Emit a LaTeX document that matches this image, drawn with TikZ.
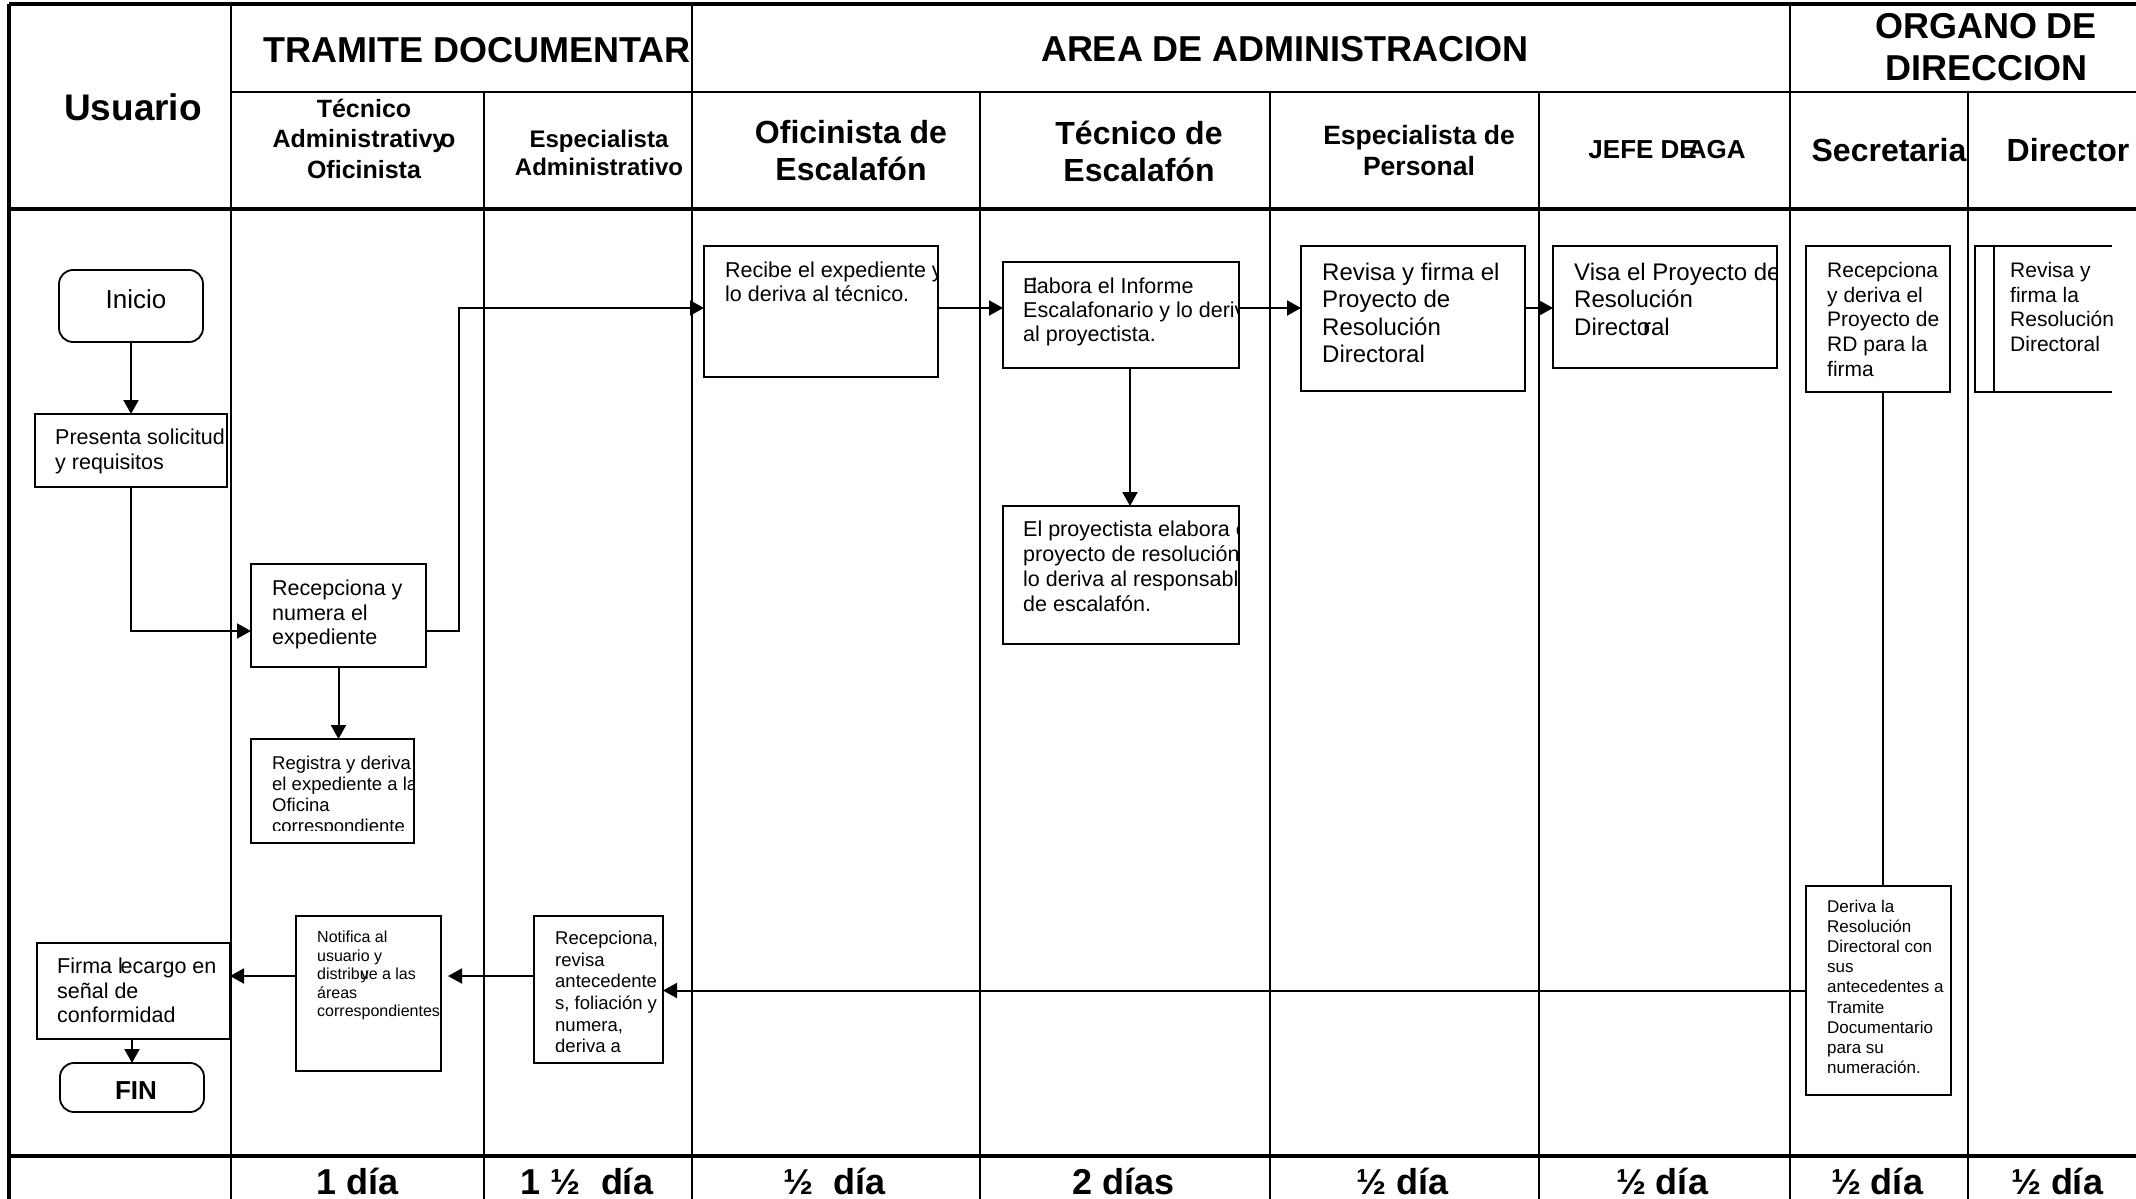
\documentclass[tikz,border=0pt]{standalone}
\usepackage{fontspec}
\setmainfont{Liberation Sans}
\usetikzlibrary{arrows.meta}

\begin{document}
\begin{tikzpicture}[x=1pt,y=-1pt]
\tikzset{caja/.style={draw, line width=1.8pt, inner sep=0pt, outer sep=0pt},
  inicial/.style={caja, rounded corners=14pt},
  texto/.style={anchor=north west, inner sep=0pt, align=left},
  titulo/.style={inner sep=0pt, align=center, font=\bfseries\fontsize{32}{37}\selectfont},
  dias/.style={anchor=base, inner sep=0pt, font=\bfseries\fontsize{36}{40}\selectfont},
  linea/.style={line width=2.5pt},
  gruesa/.style={line width=4pt},
  flecha/.style={line width=2pt, -{Triangle[length=14pt,width=15pt]}}}
\useasboundingbox (0,0) rectangle (2136,1199);
\clip (0,0) rectangle (2136,1199);
\draw[gruesa] (9,4) -- (2140,4);
\draw[gruesa] (9,4) -- (9,1205);
\draw[linea] (231,92) -- (2140,92);
\draw[gruesa] (9,209) -- (2140,209);
\draw[gruesa] (9,1156) -- (2140,1156);
\draw[linea] (231,4) -- (231,1205);
\draw[linea] (484,92) -- (484,1205);
\draw[linea] (692,4) -- (692,1205);
\draw[linea] (980,92) -- (980,1205);
\draw[linea] (1270,92) -- (1270,1205);
\draw[linea] (1539,92) -- (1539,1205);
\draw[linea] (1790,4) -- (1790,1205);
\draw[linea] (1968,92) -- (1968,1205);
\node[titulo, font=\bfseries\fontsize{37}{42}\selectfont] (husuario) at (133,107) {Usuario};
\begin{scope}
\clip (231,4) rectangle (692,92);
\node[titulo, anchor=west, font=\bfseries\fontsize{36}{40}\selectfont] (htramite) at (263,50) {TRAMITE DOCUMENTARI};
\end{scope}
\node[titulo, font=\bfseries\fontsize{36}{42}\selectfont] (harea) at (1285,49) {AREA DE ADMINISTRACION};
\node[titulo, font=\bfseries\fontsize{36}{42}\selectfont] (horgano) at (1986,47) {ORGANO DE\\DIRECCION};
\node[titulo, font=\bfseries\fontsize{25}{30.5}\selectfont] (htec) at (364,138.5) {Técnico\\Administrativy\kern-.25em o\\Oficinista};
\node[titulo, font=\bfseries\fontsize{24}{28}\selectfont] (hesp) at (599,153) {Especialista\\Administrativo};
\node[titulo] (hofi) at (851,151) {Oficinista de\\Escalafón};
\node[titulo] (htece) at (1139,151) {Técnico de\\Escalafón};
\node[titulo, font=\bfseries\fontsize{26.5}{31}\selectfont] (hespp) at (1419,151) {Especialista de\\Personal};
\node[titulo, font=\bfseries\fontsize{26}{30}\selectfont] (hjefe) at (1667,150) {JEFE DE\kern-.35em AGA};
\node[titulo] (hsec) at (1889,150) {Secretaria};
\node[titulo] (hdir) at (2068,150) {Director};
\node[inicial, minimum width=144pt, minimum height=72pt] (inicio) at (131,306) {};
\node[inner sep=0pt, font=\fontsize{26}{30}\selectfont] (tinicio) at (136,299) {Inicio};
\node[caja, minimum width=192pt, minimum height=73pt] (presenta) at (131,450.5) {};
\node[caja, minimum width=175pt, minimum height=103pt] (recep) at (338.5,615.5) {};
\node[caja, minimum width=163pt, minimum height=104pt] (registra) at (332.5,791) {};
\node[caja, minimum width=234pt, minimum height=131pt] (recibe) at (821,311.5) {};
\node[caja, minimum width=236pt, minimum height=106pt] (elabora) at (1121,315) {};
\node[caja, minimum width=236pt, minimum height=138pt] (proyecto) at (1121,575) {};
\node[caja, minimum width=224pt, minimum height=145pt] (revisa) at (1413,318.5) {};
\node[caja, minimum width=224pt, minimum height=122pt] (visa) at (1665,307) {};
\node[caja, minimum width=144pt, minimum height=146pt] (recsec) at (1878,319) {};
\node[caja, draw=none, minimum width=137pt, minimum height=146pt] (firmadir) at (2043.5,319) {};
\node[caja, minimum width=145pt, minimum height=209pt] (deriva) at (1878.5,990.5) {};
\node[caja, minimum width=129pt, minimum height=147pt] (recesp) at (598.5,989.5) {};
\node[caja, minimum width=145pt, minimum height=155pt] (notifica) at (368.5,993.5) {};
\node[caja, minimum width=193pt, minimum height=96pt] (firma) at (133.5,991) {};
\node[inicial, minimum width=144pt, minimum height=49pt] (fin) at (132,1087.5) {};
\node[inner sep=0pt, font=\bfseries\fontsize{26}{30}\selectfont] (tfin) at (136,1091) {FIN};
\draw[line width=1.8pt] (firmadir.north east) -- (firmadir.north west) -- (firmadir.south west) -- (firmadir.south east);
\draw[line width=1.8pt] ([xshift=19pt]firmadir.north west) -- ([xshift=19pt]firmadir.south west);
\node[texto, font=\fontsize{21.5}{24.5}\selectfont] (tpresenta) at (55,429) {Presenta solicitud\\y requisitos};
\node[texto, font=\fontsize{21.5}{24.5}\selectfont] (trecep) at (272,580) {Recepciona y\\numera el\\expediente};
\begin{scope}
\clip (registra.north west) rectangle ([yshift=13pt]registra.south east);
\node[texto, font=\fontsize{18.5}{21}\selectfont] (tregistra) at (272,756) {Registra y deriva\\el expediente a la\\Oficina\\correspondiente};
\end{scope}
\begin{scope}
\clip (recibe.south west) rectangle (recibe.north east);
\node[texto, font=\fontsize{21.5}{24}\selectfont] (trecibe) at (725,262) {Recibe el expediente y\\lo deriva al técnico.};
\end{scope}
\begin{scope}
\clip (elabora.south west) rectangle (elabora.north east);
\node[texto, font=\fontsize{21.5}{24}\selectfont] (telabora) at (1023,278) {E\kern-.25em labora el Informe\\Escalafonario y lo deriv\\al proyectista.};
\end{scope}
\begin{scope}
\clip (proyecto.south west) rectangle (proyecto.north east);
\node[texto, font=\fontsize{21.5}{25}\selectfont] (tproyecto) at (1023,521) {El proyectista elabora e\\proyecto de resolución\\lo deriva al responsabl\\de escalafón.};
\end{scope}
\node[texto, font=\fontsize{24}{27.3}\selectfont] (trevisa) at (1322,263) {Revisa y firma el\\Proyecto de\\Resolución\\Directoral};
\begin{scope}
\clip (visa.south west) rectangle (visa.north east);
\node[texto, font=\fontsize{24}{27.3}\selectfont] (tvisa) at (1574,263) {Visa el Proyecto de\\Resolución\\Directo\kern-.3em ral};
\end{scope}
\node[texto, font=\fontsize{21}{24.75}\selectfont] (trecsec) at (1827,262) {Recepciona\\y deriva el\\Proyecto de\\RD para la\\firma};
\node[texto, font=\fontsize{21}{24.75}\selectfont] (tfirmadir) at (2010,262) {Revisa y\\firma la\\Resolución\\Directoral};
\node[texto, font=\fontsize{17}{20.1}\selectfont] (tderiva) at (1827,900) {Deriva la\\Resolución\\Directoral con\\sus\\antecedentes a\\Tramite\\Documentario\\para su\\numeración.};
\node[texto, font=\fontsize{18.5}{21.6}\selectfont] (trecesp) at (555,931) {Recepciona,\\revisa\\antecedente\\s, foliación y\\numera,\\deriva a};
\node[texto, font=\fontsize{16}{18.5}\selectfont] (tnotifica) at (317,931) {Notifica al\\usuario y\\distribu\kern-.5em ye a las\\áreas\\correspondientes};
\node[texto, font=\fontsize{21.5}{24.5}\selectfont] (tfirma) at (57,958) {Firma l\kern-.1em ecargo en\\señal de\\conformidad};
\draw[flecha] (inicio) -- (presenta);
\draw[flecha] (presenta.south) |- ([yshift=-15.5pt]recep.west);
\draw[flecha] ([yshift=-15.5pt]recep.east) -- ++(33,0) |- ([yshift=3.5pt]recibe.west);
\draw[flecha] (recep.south) -- (recep.south |- registra.north);
\draw[flecha] ([yshift=3.5pt]recibe.east) -- ([yshift=7pt]elabora.west);
\draw[flecha] ([xshift=9pt]elabora.south) -- ([xshift=9pt]proyecto.north);
\draw[flecha] ([yshift=7pt]elabora.east) -- ([yshift=10.5pt]revisa.west);
\draw[flecha] ([yshift=10.5pt]revisa.east) -- ([yshift=-1pt]visa.west);
\draw[line width=2pt] ([xshift=5pt]recsec.south) -- ([xshift=4.5pt]deriva.north);
\draw[flecha] (deriva.west) -- (deriva.west -| recesp.east);
\draw[flecha] ([yshift=13.5pt]recesp.west) -- ([xshift=7pt,yshift=17.5pt]notifica.east);
\draw[flecha] ([yshift=17.5pt]notifica.west) -- ([yshift=15pt]firma.east);
\draw[flecha] (firma.south -| fin.north) -- (fin.north);
\node[dias] (d1) at (358,1194) {1 día};
\node[dias] (d2) at (587,1194) {1 ½~ día};
\node[dias] (d3) at (835,1194) {½~ día};
\node[dias] (d4) at (1124,1194) {2 días};
\node[dias] (d5) at (1403,1194) {½ día};
\node[dias] (d6) at (1662,1194) {½ día};
\node[dias] (d7) at (1877,1194) {½ día};
\node[dias] (d8) at (2057,1194) {½ día};
\end{tikzpicture}
\end{document}
